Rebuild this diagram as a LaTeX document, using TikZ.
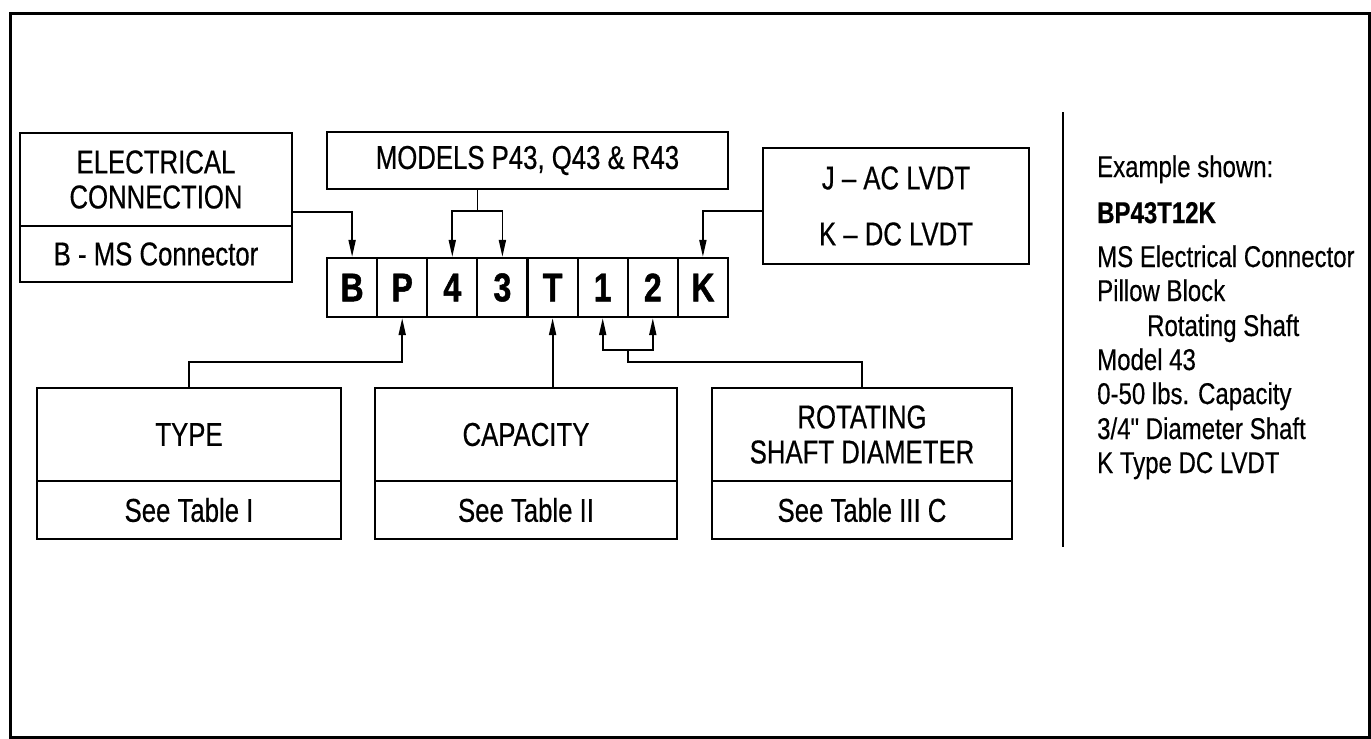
\documentclass[tikz,border=0pt]{standalone}
\usepackage{fontspec}
\setmainfont{Liberation Sans}
\newfontfamily\lblfont[FakeStretch=0.78,FakeBold=0.5]{Liberation Sans}
\newfontfamily\codfont[FakeStretch=0.80,BoldFeatures={FakeBold=1.2}]{Liberation Sans}
\newfontfamily\sidefont[FakeStretch=0.80,FakeBold=0.4,BoldFeatures={FakeBold=0.6}]{Liberation Sans}
\usetikzlibrary{arrows.meta}
\begin{document}
\begin{tikzpicture}[x=1pt,y=-1pt,
  box/.style={draw, line width=2.2pt, inner sep=0pt, align=center,
    font=\lblfont\fontsize{33}{35}\selectfont},
  cell/.style={draw, line width=2.2pt, inner sep=0pt, minimum width=50.1pt,
    minimum height=59pt, font=\codfont\bfseries\fontsize{40}{40}\selectfont},
  conn/.style={line width=1.8pt},
  arr/.style={conn, -{Triangle[length=17pt,width=7pt]}},
  side/.style={anchor=base west, inner sep=0pt,
    font=\sidefont\fontsize{30}{30}\selectfont}]
\useasboundingbox (0,0) rectangle (1371,739);
% outer frame
\draw[line width=3pt] (10,13) rectangle (1369,737);
% separator
\draw[line width=2pt] (1063,112) -- (1063,547);

% top boxes
\node[box, minimum width=272pt, minimum height=93pt] (elecT) at (156,179.5) {ELECTRICAL\\CONNECTION};
\node[box, minimum width=272pt, minimum height=56pt] (elecB) at (156,254) {B - MS Connector};
\node[box, minimum width=401pt, minimum height=57pt] (models) at (527.5,160.5) {MODELS P43, Q43 \& R43};
\node[box, minimum width=266pt, minimum height=116pt, font=\lblfont\fontsize{33}{56}\selectfont] (lvdt) at (896,206) {J – AC LVDT\\K – DC LVDT};

% code cells
\node[cell] (cB) at (352.1,287.5) {B};
\node[cell] (cP) at (402.2,287.5) {P};
\node[cell] (c4) at (452.3,287.5) {4};
\node[cell] (c3) at (502.4,287.5) {3};
\node[cell] (cT) at (552.6,287.5) {T};
\node[cell] (c1) at (602.7,287.5) {1};
\node[cell] (c2) at (652.8,287.5) {2};
\node[cell] (cK) at (702.9,287.5) {K};

% bottom boxes
\node[box, minimum width=304pt, minimum height=93pt] (typeT) at (189,434.5) {TYPE};
\node[box, minimum width=304pt, minimum height=58pt] (typeB) at (189,510) {See Table I};
\node[box, minimum width=302pt, minimum height=93pt] (capT) at (526,434.5) {CAPACITY};
\node[box, minimum width=302pt, minimum height=58pt] (capB) at (526,510) {See Table II};
\node[box, minimum width=300pt, minimum height=93pt] (rotT) at (862,434.5) {ROTATING\\SHAFT DIAMETER};
\node[box, minimum width=300pt, minimum height=58pt] (rotB) at (862,510) {See Table III C};

% connectors top
\draw[arr] ([yshift=-32.5pt]elecT.east) -| (cB.north);
\coordinate (mj) at (477.5,211);
\draw[conn] (models.south -| mj) -- (mj);
\draw[arr] (mj) -| (c4.north);
\draw[arr] (mj) -| (c3.north);
\draw[arr] ([yshift=-5pt]lvdt.west) -| (cK.north);

% connectors bottom
\draw[arr] (typeT.north) -- ++(0,-25) -| (cP.south);
\draw[arr] (capT.north -| cT.south) -- (cT.south);
\coordinate (j12) at (628,350);
\draw[conn] (rotT.north) -- ++(0,-25) -| (j12);
\draw[arr] (j12) -| (c1.south);
\draw[arr] (j12) -| (c2.south);

% example text
\node[side] (ex1) at (1097,177) {Example shown:};
\node[side, font=\sidefont\bfseries\fontsize{30}{30}\selectfont] (ex2) at (1097,223) {BP43T12K};
\node[side] (ex3) at (1097,267) {MS Electrical Connector};
\node[side] (ex4) at (1097,301) {Pillow Block};
\node[side] (ex5) at (1147,336) {Rotating Shaft};
\node[side] (ex6) at (1097,370) {Model 43};
\node[side] (ex7) at (1097,404) {0-50 lbs. Capacity};
\node[side] (ex8) at (1097,439) {3/4" Diameter Shaft};
\node[side] (ex9) at (1097,473) {K Type DC LVDT};
\end{tikzpicture}
\end{document}
